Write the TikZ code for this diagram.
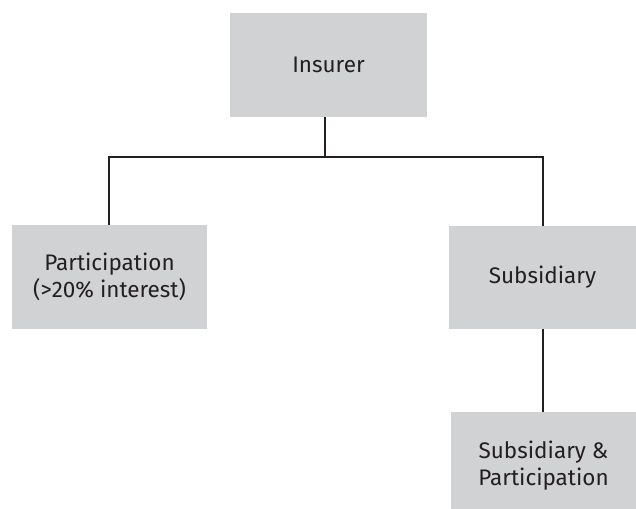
\documentclass[tikz,border=0pt]{standalone}
\usepackage{fontspec}
\setmainfont{Fira Sans}
\definecolor{boxgray}{HTML}{D1D2D4}
\definecolor{txt}{HTML}{231F20}
\begin{document}
\begin{tikzpicture}[x=1pt,y=-1pt,
  box/.style={fill=boxgray,draw=none,text=txt,font=\fontsize{22.5}{27}\selectfont,align=center,inner sep=0pt},
  conn/.style={draw=txt,line width=1.4pt}]
\useasboundingbox (0,0) rectangle (636,508);
\begin{scope}
\clip (0,0) rectangle (636,508);
\node[box,minimum width=197pt,minimum height=104pt] (ins) at (328.5,65) {Insurer};
\node[box,minimum width=195pt,minimum height=104pt] (par) at (109.5,277) {Participation\\(>20\% interest)};
\node[box,minimum width=187pt,minimum height=103pt] (sub) at (542.5,277.5) {Subsidiary};
\node[box,minimum width=185pt,minimum height=108pt] (sp) at (543.5,466) {Subsidiary \&\\Participation};
\coordinate (j) at (325,157);
\draw[conn] (ins.south -| j) -- (j);
\draw[conn] (par.north -| 109,0) |- (j) -| (sub.north -| 543,0);
\draw[conn] (sub.south -| 543,0) -- (sp.north -| 543,0);
\end{scope}
\end{tikzpicture}
\end{document}
